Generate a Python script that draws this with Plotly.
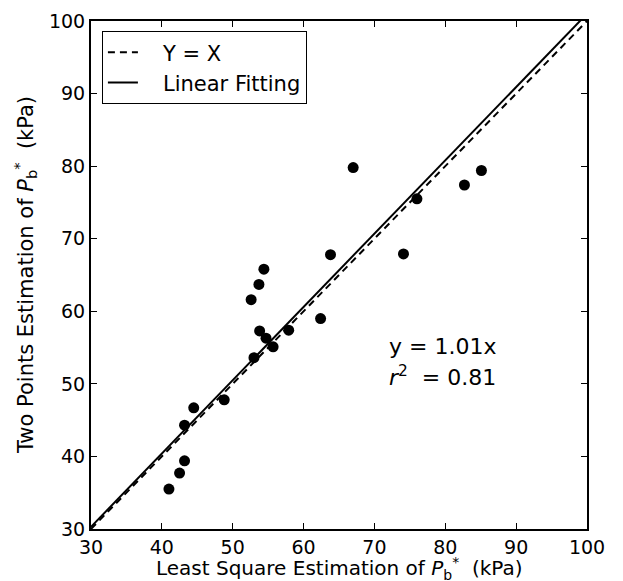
import plotly.graph_objects as go

# Data
least_square = [41.0, 42.5, 43.2, 43.2, 44.5, 48.8, 53.0, 53.8, 54.7, 55.7, 57.9,
                62.4, 52.6, 53.7, 54.4, 63.8, 74.1, 67.0, 76.0, 82.7, 85.1]
two_points = [35.5, 37.7, 39.4, 44.3, 46.7, 47.8, 53.6, 57.3, 56.3, 55.1, 57.4,
              59.0, 61.6, 63.7, 65.8, 67.8, 67.9, 79.8, 75.5, 77.4, 79.4]
line_x = [30, 100]
slope = 1.01
fit_y = [slope * v for v in line_x]
ticks = [30, 40, 50, 60, 70, 80, 90, 100]
x_title = "Least Square Estimation of <i>P</i><sub>b</sub><sup>*</sup>  (kPa)"
y_title = "Two Points Estimation of <i>P</i><sub>b</sub><sup>*</sup>  (kPa)"

FONT = "DejaVu Sans"
PAD = "\u00a0\u00a0\u00a0"

fig = go.Figure()
fig.add_trace(go.Scatter(x=line_x, y=line_x, mode="lines", name=PAD + "Y = X",
                         line=dict(color="black", width=2, dash="7px,5px")))
fig.add_trace(go.Scatter(x=line_x, y=fit_y, mode="lines", name=PAD + "Linear Fitting",
                         line=dict(color="black", width=2)))
fig.add_trace(go.Scatter(x=least_square, y=two_points, mode="markers", showlegend=False,
                         marker=dict(color="black", size=11)))

axis_common = dict(range=[30, 100], tickvals=ticks, ticks="inside", ticklen=6, tickwidth=1,
                   tickcolor="black", showline=True, linecolor="black", linewidth=2,
                   mirror="ticks", showgrid=False, zeroline=False, automargin=False,
                   tickfont=dict(family=FONT, size=19, color="black"))

fig.update_xaxes(**axis_common)
fig.update_yaxes(**axis_common)

fig.add_annotation(x=0.5, y=0, xref="paper", yref="paper", text=x_title, showarrow=False,
                   xanchor="center", yanchor="middle", yshift=-39,
                   font=dict(family=FONT, size=20, color="black"))
fig.add_annotation(x=0, y=0.5, xref="paper", yref="paper", text=y_title, showarrow=False,
                   textangle=-90, xanchor="center", yanchor="middle", xshift=-66,
                   font=dict(family=FONT, size=21, color="black"))

fig.add_annotation(x=71.8, y=55.2, text="y = 1.01x", showarrow=False, xanchor="left",
                   yanchor="middle", font=dict(family=FONT, size=22, color="black"))
fig.add_annotation(x=71.8, y=51.1, text="<i>r</i><sup>2</sup>  = 0.81", showarrow=False,
                   xanchor="left", yanchor="middle",
                   font=dict(family=FONT, size=22, color="black"))

fig.update_layout(
    width=623, height=581,
    margin=dict(l=91, r=36, t=21, b=52),
    paper_bgcolor="white", plot_bgcolor="white",
    legend=dict(x=0.022, y=0.98, xanchor="left", yanchor="top",
                bordercolor="black", borderwidth=1, bgcolor="white",
                font=dict(family=FONT, size=21, color="black")),
)

fig.write_html("out.html")
